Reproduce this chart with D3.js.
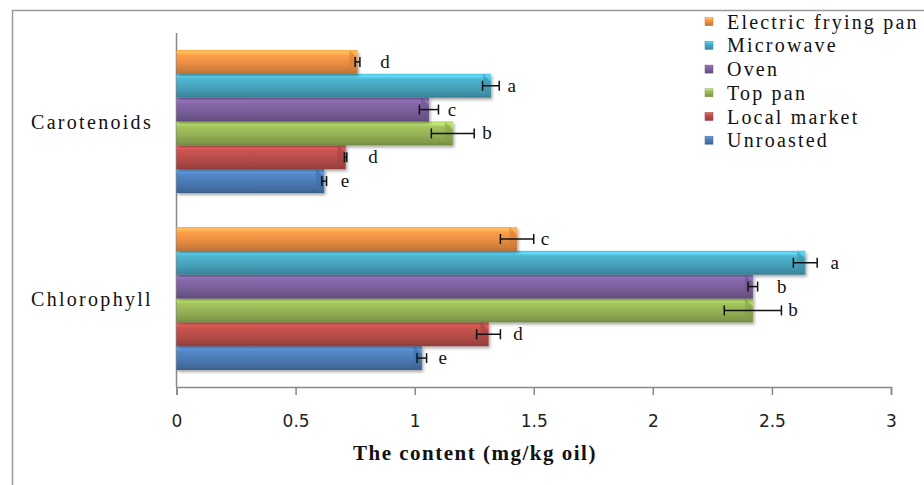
<!DOCTYPE html>
<html><head><meta charset="utf-8">
<script src="https://cdn.jsdelivr.net/npm/d3@7"></script>
<style>body{margin:0;background:#fff}svg{display:block}</style>
</head><body>
<svg id="c" width="924" height="485"></svg>
<script>
const categories = ["Carotenoids", "Chlorophyll"];
const series = ["Unroasted", "Local market", "Top pan", "Oven", "Microwave", "Electric frying pan"];
const seriesColors = ["#4F81BD", "#C0504D", "#9BBB59", "#8064A2", "#4BACC6", "#F79646"];
const carotenoids = [0.62, 0.71, 1.16, 1.06, 1.32, 0.76];
const carotenoidErr = [0.01, 0.005, 0.09, 0.04, 0.035, 0.01];
const carotenoidLetters = ["e", "d", "b", "c", "a", "d"];
const carotenoidLetterAt = [0.707, 0.825, 1.304, 1.157, 1.408, 0.875];
const chlorophyll = [1.03, 1.31, 2.42, 2.42, 2.64, 1.43];
const chlorophyllErr = [0.02, 0.05, 0.12, 0.02, 0.05, 0.07];
const chlorophyllLetters = ["e", "d", "b", "b", "a", "c"];
const chlorophyllLetterAt = [1.118, 1.434, 2.588, 2.541, 2.764, 1.547];
const xTicks = [0, 0.5, 1, 1.5, 2, 2.5, 3];
const xTitle = "The content (mg/kg oil)";

const values = [carotenoids, chlorophyll];
const errs = [carotenoidErr, chlorophyllErr];
const letters = [carotenoidLetters, chlorophyllLetters];
const letterAt = [carotenoidLetterAt, chlorophyllLetterAt];

const svg = d3.select("#c");
const serif = "'Liberation Serif', 'Times New Roman', serif";

// outer frame (left + top visible)
svg.append("rect").attr("x", 12.5).attr("y", 10.5).attr("width", 1000).attr("height", 1000)
  .attr("fill", "none").attr("stroke", "#999").attr("stroke-width", 1.5);

const x = d3.scaleLinear().domain([0, 3]).range([176.5, 891]);
const y = d3.scaleBand().domain(categories).range([33, 387]).paddingInner(0.192).paddingOuter(0.096);
const yInner = d3.scaleBand().domain(series.slice().reverse()).range([0, y.bandwidth()]);

const defs = svg.append("defs");
seriesColors.forEach((c, i) => {
  const base = d3.color(c);
  const g = defs.append("linearGradient").attr("id", "g" + i)
    .attr("x1", 0).attr("y1", 0).attr("x2", 0).attr("y2", 1);
  g.append("stop").attr("offset", "0%").attr("stop-color", base.brighter(0.3));
  g.append("stop").attr("offset", "10%").attr("stop-color", base.brighter(0.7));
  g.append("stop").attr("offset", "22%").attr("stop-color", base.brighter(0.15));
  g.append("stop").attr("offset", "55%").attr("stop-color", base.darker(0.15));
  g.append("stop").attr("offset", "88%").attr("stop-color", base.darker(0.55));
  g.append("stop").attr("offset", "100%").attr("stop-color", base.darker(0.9));
});
const f = defs.append("filter").attr("id", "sh").attr("x", "-5%").attr("y", "-20%").attr("width", "115%").attr("height", "160%");
f.append("feDropShadow").attr("dx", 1.5).attr("dy", 2).attr("stdDeviation", 1.5)
  .attr("flood-color", "#000").attr("flood-opacity", 0.35);

// axes
svg.append("line").attr("x1", x(0)).attr("x2", x(0)).attr("y1", 33).attr("y2", 387)
  .attr("stroke", "#888").attr("stroke-width", 1.5);
const xAxis = svg.append("g").attr("transform", "translate(0,387)")
  .call(d3.axisBottom(x).tickValues(xTicks).tickSize(8).tickPadding(20).tickFormat(d3.format("")));
xAxis.select(".domain").attr("stroke", "#888").attr("stroke-width", 1.5);
xAxis.selectAll(".tick line").attr("stroke", "#888").attr("stroke-width", 1.5);
xAxis.selectAll(".tick text").attr("font-family", "'DejaVu Sans', Verdana, sans-serif")
  .attr("font-size", 17).attr("fill", "#222");

svg.append("text").attr("x", 475).attr("y", 460).attr("text-anchor", "middle")
  .attr("font-family", serif).attr("font-weight", "bold").attr("font-size", 21)
  .attr("letter-spacing", 1.5).attr("fill", "#111").text(xTitle);

// category labels
categories.forEach(c => {
  svg.append("text").attr("x", 92).attr("y", y(c) + y.bandwidth() / 2 + 7)
    .attr("text-anchor", "middle").attr("font-family", serif).attr("font-size", 20)
    .attr("letter-spacing", 2.3).attr("fill", "#111").text(c);
});

// bars
categories.forEach((cat, ci) => {
  const g = svg.append("g");
  series.forEach((s, si) => {
    const v = values[ci][si];
    const y0 = y(cat) + yInner(s);
    const h = yInner.bandwidth();
    const x0 = x(0), x1 = x(v);
    const bg = g.append("g");
    bg.append("rect").attr("x", x0).attr("y", y0).attr("width", x1 - x0).attr("height", h)
      .attr("fill", "url(#g" + si + ")").attr("filter", "url(#sh)");
    const base = d3.color(seriesColors[si]);
    // bevel at end
    const b = Math.min(8, h / 3);
    bg.append("path").attr("d", `M${x1 - b},${y0} L${x1},${y0} L${x1},${y0 + b} Z`)
      .attr("fill", base.brighter(0.5)).attr("opacity", 0.8);
    bg.append("path").attr("d", `M${x1 - b},${y0} L${x1},${y0 + b} L${x1},${y0 + h} L${x1 - b},${y0 + h - b} Z`)
      .attr("fill", base.darker(0.5)).attr("opacity", 0.55);
    // error bar
    const e = errs[ci][si];
    const cy = y0 + h / 2;
    const ea = x(v - e), eb = x(v + e);
    g.append("line").attr("x1", ea).attr("x2", eb).attr("y1", cy).attr("y2", cy)
      .attr("stroke", "#111").attr("stroke-width", 1.5);
    [ea, eb].forEach(px => g.append("line").attr("x1", px).attr("x2", px)
      .attr("y1", cy - 5).attr("y2", cy + 5).attr("stroke", "#111").attr("stroke-width", 1.5));
    // letter
    g.append("text").attr("x", x(letterAt[ci][si])).attr("y", cy + 6)
      .attr("text-anchor", "middle").attr("font-family", serif).attr("font-size", 19)
      .attr("fill", "#111").text(letters[ci][si]);
  });
});

// legend
const legendOrder = series.slice().reverse();
legendOrder.forEach((s, i) => {
  const si = series.indexOf(s);
  const cy = 21.7 + i * 23.7;
  svg.append("rect").attr("x", 705).attr("y", cy - 4).attr("width", 8).attr("height", 8)
    .attr("fill", "url(#g" + si + ")").attr("stroke", d3.color(seriesColors[si]).darker(0.5)).attr("stroke-width", 0.5);
  svg.append("text").attr("x", 727).attr("y", cy + 7).attr("font-family", serif)
    .attr("font-size", 20).attr("letter-spacing", 2.2).attr("fill", "#111").text(s);
});
</script>
</body></html>
